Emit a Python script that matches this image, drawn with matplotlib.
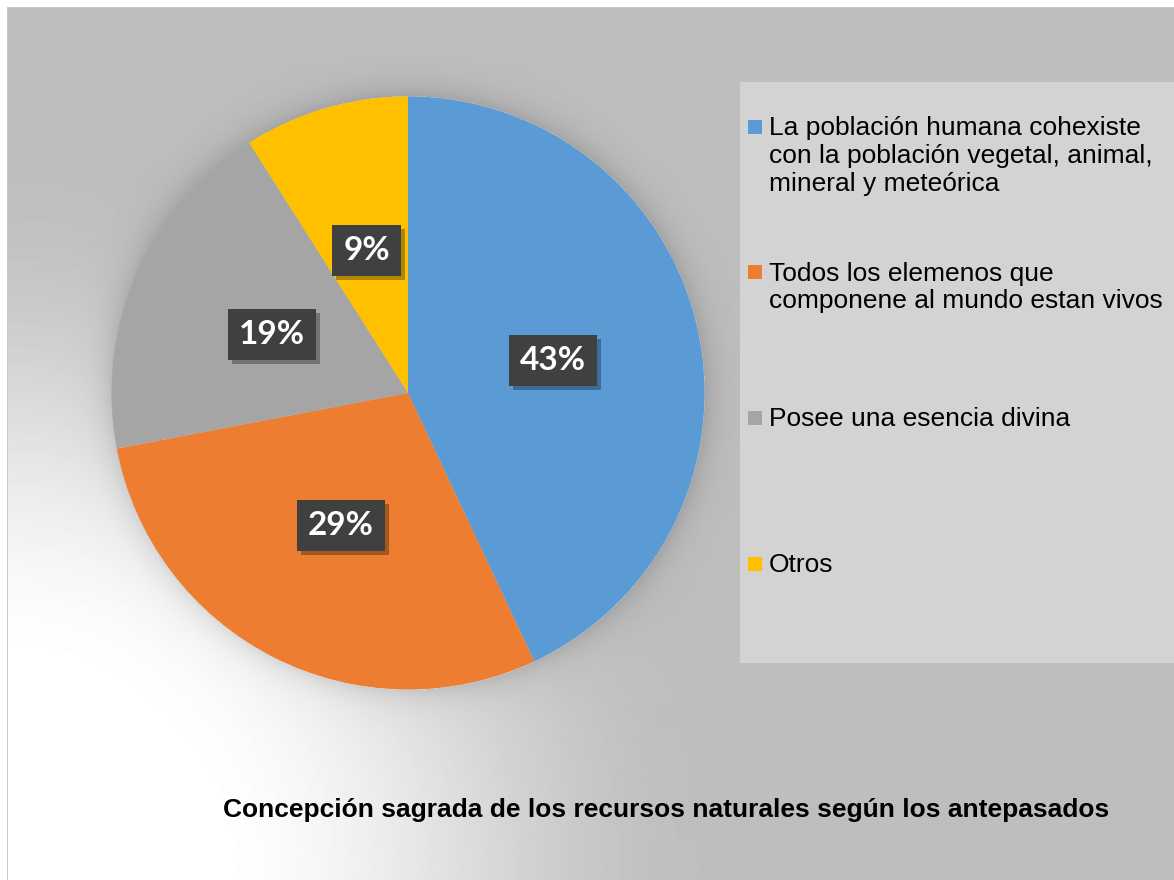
import numpy as np
import matplotlib
matplotlib.use("Agg")
import matplotlib.pyplot as plt
import matplotlib.patheffects as pe
from matplotlib.patches import Rectangle
from matplotlib import font_manager

# data
labels = [
    "La población humana cohexiste\ncon la población vegetal, animal,\nmineral y meteórica",
    "Todos los elemenos que\ncomponene al mundo estan vivos",
    "Posee una esencia divina",
    "Otros",
]
values = [43, 29, 19, 9]
colors = ["#5B9BD5", "#ED7D31", "#A5A5A5", "#FFC000"]
title = "Concepción sagrada de los recursos naturales según los antepasados"

W, H = 1174, 880
fig = plt.figure(figsize=(W / 100, H / 100), dpi=100)

# background: gray with a white glow from the lower-left corner, soft shadow round the pie
cx, cy, R = 408, 393, 296.5
yy, xx = np.mgrid[0:H, 0:W]
d = np.hypot(xx, yy - H)
t = np.clip((d - 200) / 520, 0, 1)
t = t * t * (3 - 2 * t)
val = 1 - t * (1 - 0.745)
ds = np.hypot(xx - cx, yy - cy)
ring = np.where(ds > R, np.exp(-(ds - R) / 14), 0)
val = val - 0.10 * ring
val[:8, :] = 1
val[:, :7] = 1
val[8, 7:] = 0.78
val[8:, 7] = 0.78

bg = fig.add_axes([0, 0, 1, 1])
bg.imshow(val, cmap="gray", vmin=0, vmax=1, extent=[0, 1, 0, 1],
          aspect="auto", interpolation="bilinear")
bg.axis("off")

# pie
half = 300
ax = fig.add_axes([(cx - half) / W, (H - cy - half) / H, 2 * half / W, 2 * half / H])
wedges, texts, autotexts = ax.pie(values, colors=colors, startangle=90, counterclock=False,
                                  autopct="%1.0f%%", pctdistance=0.5,
                                  wedgeprops=dict(linewidth=0))
lim = half / R
ax.set_xlim(-lim, lim)
ax.set_ylim(-lim, lim)
ax.axis("off")

for at in autotexts:
    at.set_fontfamily("Lato")
    at.set_fontweight("bold")
    at.set_fontsize(24)
    at.set_color("white")
    at.set_bbox(dict(boxstyle="square,pad=0.33", fc="#404040", ec="none"))
    at.get_bbox_patch().set_path_effects([
        pe.SimplePatchShadow(offset=(3, -3), shadow_rgbFace="black", alpha=0.3),
        pe.Normal()])

# legend box, drawn by hand so entries sit evenly spaced like the original
fig.add_artist(Rectangle((740 / W, (H - 663) / H), (W - 740) / W, (663 - 82) / H,
                         transform=fig.transFigure, fc="#D3D3D3", ec="none"))
first_baseline = 136
step = 145.5
for i, (lab, col) in enumerate(zip(labels, colors)):
    base = first_baseline + i * step
    fig.add_artist(Rectangle((748 / W, (H - base + 2) / H), 14 / W, 14 / H,
                             transform=fig.transFigure, fc=col, ec="none"))
    fig.text(769 / W, (H - base + 20) / H, lab, ha="left", va="top",
             fontsize=19, family="Liberation Sans", color="black", linespacing=1.2)

# title under the chart
names = {f.name for f in font_manager.fontManager.ttflist}
if "Liberation Sans Narrow" in names:
    fig.text(666 / W, (H - 817) / H, title, ha="center", va="baseline",
             fontsize=20, fontweight="bold", family="Liberation Sans Narrow")
else:
    fig.text(666 / W, (H - 817) / H, title, ha="center", va="baseline",
             fontsize=19, fontweight="bold", family="Liberation Sans")

fig.savefig("out.png", dpi=100)
